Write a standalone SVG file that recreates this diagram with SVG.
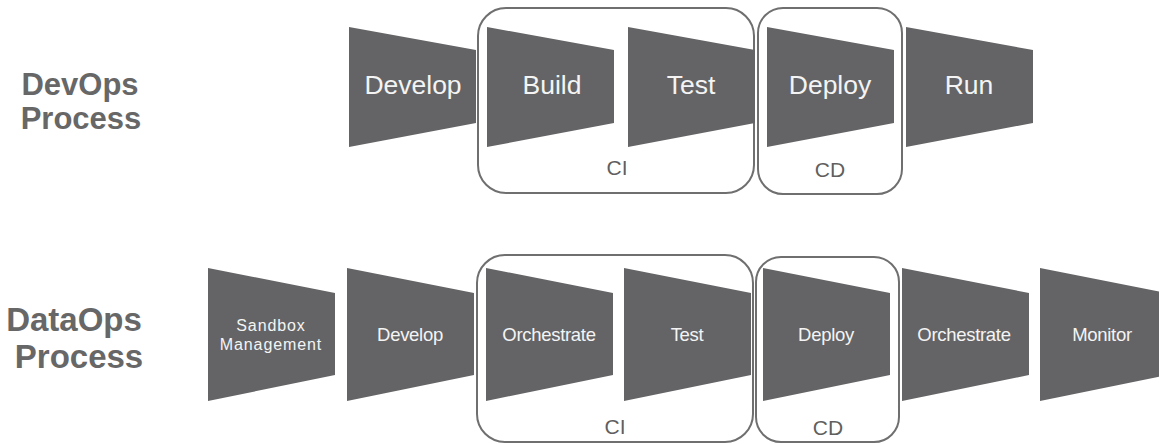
<svg xmlns="http://www.w3.org/2000/svg" width="1159" height="444" viewBox="0 0 1159 444">
  <style>
    .stage { fill: #646466; }
    .stage-text { fill: #f4f4f4; font-family: "Liberation Sans", Arial, sans-serif; text-anchor: middle; }
    .top-text { font-size: 26.5px; }
    .bot-text { font-size: 18.5px; letter-spacing: -0.3px; }
    .small-text { font-size: 16px; letter-spacing: 0.9px; }
    .group-box { fill: none; stroke: #6f6f6f; stroke-width: 2; }
    .group-label { fill: #5f5f5f; font-family: "Liberation Sans", Arial, sans-serif; text-anchor: middle; font-size: 21px; }
    .row-title { fill: #676767; font-family: "Liberation Sans", Arial, sans-serif; font-weight: bold; font-size: 31px; text-anchor: middle; }
    .row-title-lg { font-size: 33px; }
  </style>
  <defs>
    <polygon id="stage-top" points="0,27 127,50 127,123 0,147"/>
    <polygon id="stage-bot" points="0,268 127,293 127,375 0,401"/>
  </defs>

  <rect width="1159" height="444" fill="#ffffff"/>

  <!-- row titles -->
  <g id="devops-title">
    <text class="row-title" x="80" y="95">DevOps</text>
    <text class="row-title" x="81" y="129">Process</text>
  </g>
  <g id="dataops-title">
    <text class="row-title row-title-lg" x="74" y="331">DataOps</text>
    <text class="row-title row-title-lg" x="79" y="368">Process</text>
  </g>

  <!-- CI / CD groupings -->
  <g id="connectors">
    <rect id="devops-ci" class="group-box" x="478" y="8" width="276" height="185" rx="28"/>
    <rect id="devops-cd" class="group-box" x="758" y="8" width="144" height="186" rx="25"/>
    <rect id="dataops-ci" class="group-box" x="477" y="255" width="276" height="187" rx="28"/>
    <rect id="dataops-cd" class="group-box" x="756" y="257" width="143" height="185" rx="25"/>
  </g>
  <g id="group-labels">
    <text class="group-label" x="617" y="175">CI</text>
    <text class="group-label" x="830" y="177">CD</text>
    <text class="group-label" x="615" y="434">CI</text>
    <text class="group-label" x="828" y="435">CD</text>
  </g>

  <!-- DevOps stages -->
  <g id="devops-develop">
    <use href="#stage-top" class="stage" x="349"/>
    <text class="stage-text top-text" x="413" y="94">Develop</text>
  </g>
  <g id="devops-build">
    <use href="#stage-top" class="stage" x="487"/>
    <text class="stage-text top-text" x="552" y="94">Build</text>
  </g>
  <g id="devops-test">
    <use href="#stage-top" class="stage" x="628"/>
    <text class="stage-text top-text" x="691" y="94">Test</text>
  </g>
  <g id="devops-deploy">
    <use href="#stage-top" class="stage" x="767"/>
    <text class="stage-text top-text" x="830" y="94">Deploy</text>
  </g>
  <g id="devops-run">
    <use href="#stage-top" class="stage" x="906"/>
    <text class="stage-text top-text" x="969" y="94">Run</text>
  </g>

  <!-- DataOps stages -->
  <g id="dataops-sandbox">
    <use href="#stage-bot" class="stage" x="208"/>
    <text class="stage-text small-text" x="271" y="331">Sandbox</text>
    <text class="stage-text small-text" x="271" y="350">Management</text>
  </g>
  <g id="dataops-develop">
    <use href="#stage-bot" class="stage" x="347"/>
    <text class="stage-text bot-text" x="410" y="341">Develop</text>
  </g>
  <g id="dataops-orchestrate-ci">
    <use href="#stage-bot" class="stage" x="486"/>
    <text class="stage-text bot-text" x="549" y="341">Orchestrate</text>
  </g>
  <g id="dataops-test">
    <use href="#stage-bot" class="stage" x="624"/>
    <text class="stage-text bot-text" x="687" y="341">Test</text>
  </g>
  <g id="dataops-deploy">
    <use href="#stage-bot" class="stage" x="763"/>
    <text class="stage-text bot-text" x="826" y="341">Deploy</text>
  </g>
  <g id="dataops-orchestrate">
    <use href="#stage-bot" class="stage" x="902"/>
    <text class="stage-text bot-text" x="964" y="341">Orchestrate</text>
  </g>
  <g id="dataops-monitor">
    <use href="#stage-bot" class="stage" x="1040"/>
    <text class="stage-text bot-text" x="1102" y="341">Monitor</text>
  </g>
</svg>
